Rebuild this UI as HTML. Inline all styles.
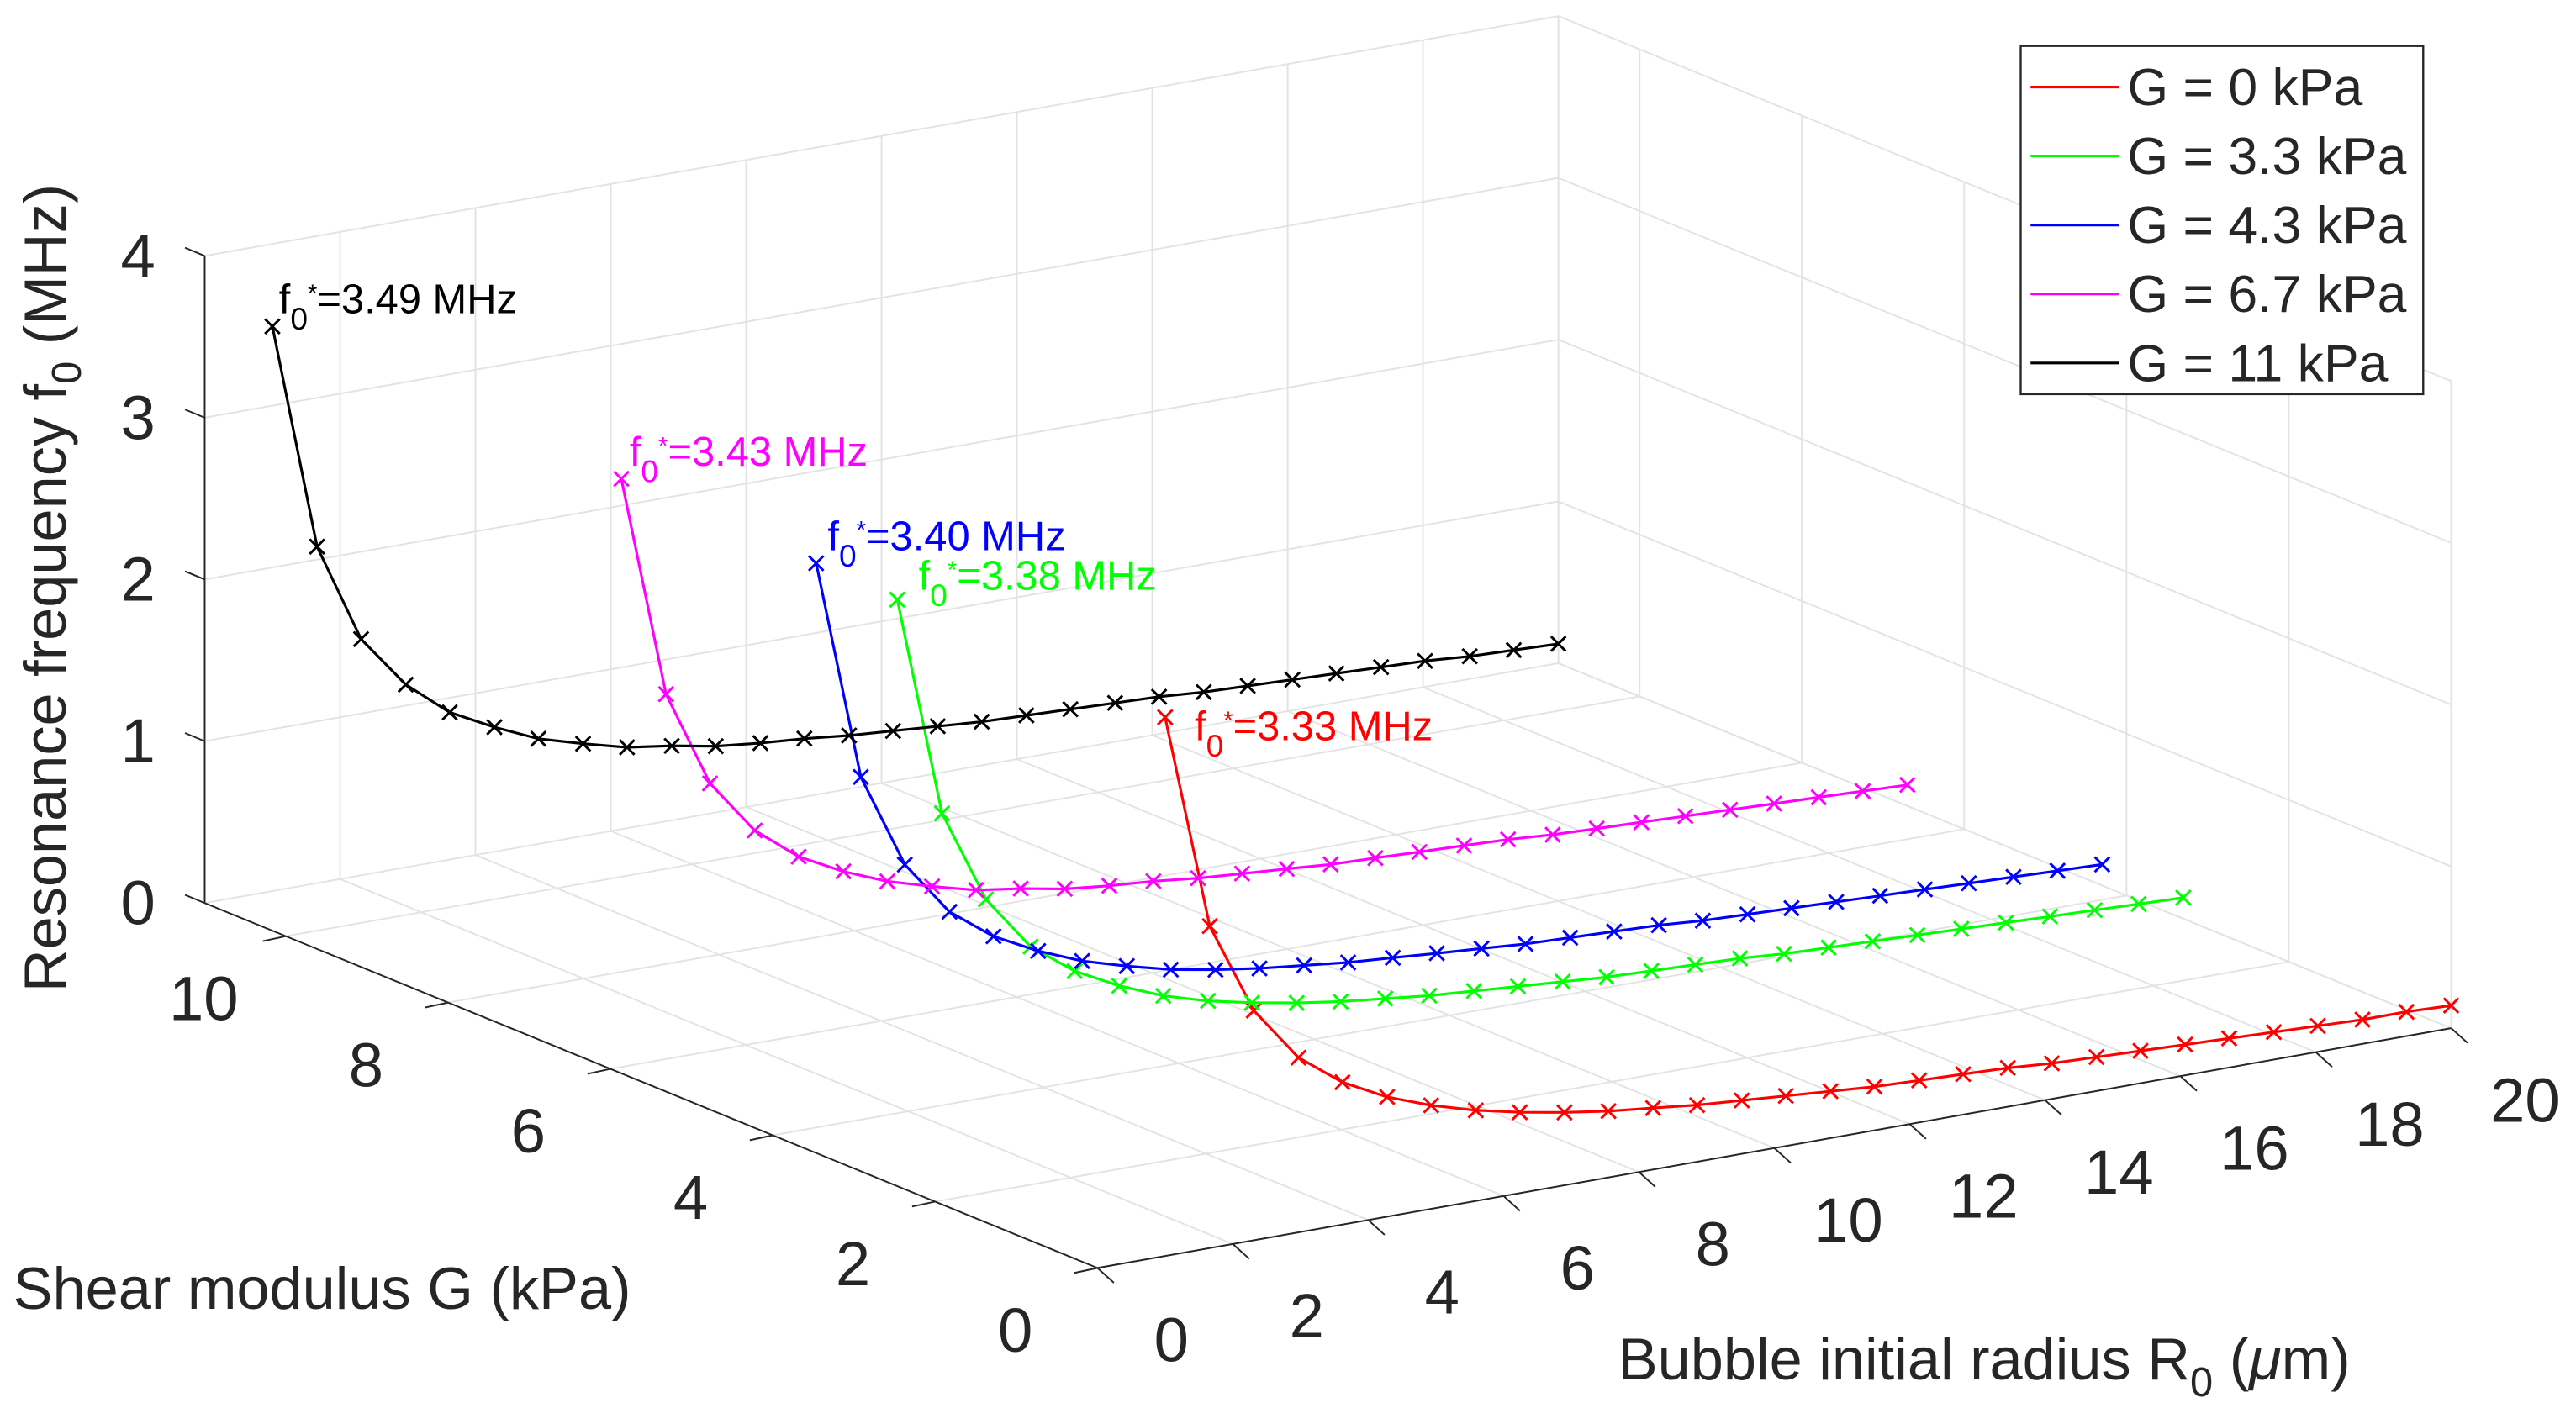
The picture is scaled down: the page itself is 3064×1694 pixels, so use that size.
<!DOCTYPE html>
<html><head><meta charset="utf-8"><style>
html,body{margin:0;padding:0;background:#fff}
svg{display:block}
text{font-family:"Liberation Sans",Arial,sans-serif;fill:#262626}
</style></head>
<body>
<svg id="chart" width="3064" height="1694" viewBox="0 0 1568 867" preserveAspectRatio="none" xmlns="http://www.w3.org/2000/svg">
<g id="grid"></g>
<g id="axes"></g>
<g id="series"></g>
<g id="labels">
<text transform="translate(40,358) rotate(-90)" text-anchor="middle" font-size="36">Resonance frequency f<tspan font-size="25" dy="9">0</tspan><tspan dy="-9"> (MHz)</tspan></text>
<text x="8" y="797" font-size="36">Shear modulus G (kPa)</text>
<text x="985" y="840" font-size="36">Bubble initial radius R<tspan font-size="25" dy="10">0</tspan><tspan dy="-10"> (</tspan><tspan font-style="italic">μ</tspan>m)</text>
</g>
<g id="legend">
<rect x="1230" y="28" width="245" height="212" fill="#fff" stroke="#262626" stroke-width="1.2"/>
</g>
</svg>
<script>
const NS='http://www.w3.org/2000/svg';
const rVals=[1.00,1.66,2.31,2.97,3.62,4.28,4.93,5.59,6.24,6.90,7.55,8.21,8.86,9.52,10.17,10.83,11.48,12.14,12.79,13.45,14.10,14.76,15.41,16.07,16.72,17.38,18.03,18.69,19.34,20.00];
const gVals=[0,3.3,4.3,6.7,11];
const seriesNames=['G = 0 kPa','G = 3.3 kPa','G = 4.3 kPa','G = 6.7 kPa','G = 11 kPa'];
const seriesColors=['#ff0000','#00ff00','#0000ff','#ff00ff','#000000'];
const peakLabels=['3.33','3.38','3.40','3.43','3.49'];
const fG0=[3.33,1.99,1.42,1.08,0.88,0.74,0.64,0.56,0.50,0.45,0.41,0.38,0.35,0.33,0.31,0.29,0.27,0.26,0.25,0.24,0.22,0.21,0.20,0.19,0.18,0.17,0.16,0.15,0.15,0.14];
const fG33=[3.38,2.01,1.43,1.09,0.89,0.75,0.64,0.56,0.50,0.45,0.41,0.38,0.35,0.33,0.31,0.29,0.27,0.26,0.25,0.24,0.22,0.21,0.20,0.19,0.18,0.17,0.16,0.15,0.14,0.13];
const fG43=[3.40,2.03,1.44,1.10,0.90,0.76,0.65,0.57,0.50,0.45,0.41,0.38,0.35,0.33,0.31,0.29,0.27,0.26,0.25,0.24,0.22,0.21,0.20,0.19,0.18,0.17,0.16,0.15,0.14,0.13];
const fG67=[3.43,2.05,1.45,1.11,0.90,0.76,0.65,0.57,0.50,0.46,0.41,0.38,0.36,0.33,0.31,0.29,0.27,0.26,0.25,0.24,0.23,0.21,0.20,0.19,0.18,0.17,0.16,0.15,0.14,0.13];
const fG11=[3.49,2.08,1.46,1.13,0.91,0.77,0.65,0.57,0.50,0.46,0.41,0.38,0.36,0.33,0.31,0.29,0.27,0.26,0.25,0.24,0.23,0.21,0.20,0.19,0.18,0.17,0.16,0.14,0.13,0.12];
const rTicks=[0,2,4,6,8,10,12,14,16,18,20];
const gTicks=[0,2,4,6,8,10];
const fTicks=[0,1,2,3,4];
const allF=[fG0,fG33,fG43,fG67,fG11];
const annDx=[18,13,7,5,4];
const annDy=[14,-6,-8,-8,-8];
const R_MAX=20,G_MAX=11,F_MAX=4;
function px(R,G,f){return 668+41.2*R-49.4*G;}
function py(R,G,f){return 772-7.3*R-20.2*G-98.5*f;}
function mk(tag,attrs,parent){const e=document.createElementNS(NS,tag);for(const k in attrs)e.setAttribute(k,attrs[k]);parent.appendChild(e);return e;}
function line3(a,b,color,w,parent){return mk('line',{x1:px(...a),y1:py(...a),x2:px(...b),y2:py(...b),stroke:color,'stroke-width':w},parent);}
const grid=document.getElementById('grid'),axes=document.getElementById('axes'),ser=document.getElementById('series'),leg=document.getElementById('legend');
const GC='#e3e3e3';
rTicks.forEach(r=>{
  let l=line3([r,0,0],[r,G_MAX,0],GC,1,grid);
  l=line3([r,G_MAX,0],[r,G_MAX,F_MAX],GC,1,grid);
});
gTicks.forEach(g=>{
  let l=line3([0,g,0],[R_MAX,g,0],GC,1,grid);
  l=line3([R_MAX,g,0],[R_MAX,g,F_MAX],GC,1,grid);
});
fTicks.forEach(f=>{
  let l=line3([0,G_MAX,f],[R_MAX,G_MAX,f],GC,1,grid);
  l=line3([R_MAX,G_MAX,f],[R_MAX,0,f],GC,1,grid);
});
let ed=line3([R_MAX,G_MAX,0],[R_MAX,G_MAX,F_MAX],GC,1,grid);
ed=line3([R_MAX,0,0],[R_MAX,0,F_MAX],GC,1,grid);
const AC='#262626';
let a=line3([0,G_MAX,0],[0,G_MAX,F_MAX],AC,1,axes);
a=line3([0,0,0],[0,G_MAX,0],AC,1,axes);
a=line3([0,0,0],[R_MAX,0,0],AC,1,axes);
fTicks.forEach(f=>{
  const x=px(0,G_MAX,f),y=py(0,G_MAX,f);
  let t=mk('line',{x1:x,y1:y,x2:x-12,y2:y-5,stroke:AC,'stroke-width':1},axes);
  t=mk('text',{x:x-30,y:y+13,'font-size':38,'text-anchor':'end'},axes);t.textContent=f;
});
gTicks.forEach(g=>{
  const x=px(0,g,0),y=py(0,g,0);
  let t=mk('line',{x1:x,y1:y,x2:x-14,y2:y+3,stroke:AC,'stroke-width':1},axes);
  t=mk('text',{x:x-50,y:y+51,'font-size':38,'text-anchor':'middle'},axes);t.textContent=g;
});
rTicks.forEach(r=>{
  const x=px(r,0,0),y=py(r,0,0);
  let t=mk('line',{x1:x,y1:y,x2:x+10,y2:y+9,stroke:AC,'stroke-width':1},axes);
  t=mk('text',{x:x+45,y:y+57,'font-size':38,'text-anchor':'middle'},axes);t.textContent=r;
});
allF.forEach((fs,si)=>{
  const g=gVals[si],c=seriesColors[si];
  const grp=mk('g',{},ser);
  
  
  const pts=fs.map((f,i)=>px(rVals[i],g,f).toFixed(1)+','+py(rVals[i],g,f).toFixed(1)).join(' ');
  const pl=mk('polyline',{points:pts,fill:'none',stroke:c,'stroke-width':1.6,'stroke-linejoin':'round'},grp);
  
  
  fs.forEach((f,i)=>{
    const x=px(rVals[i],g,f),y=py(rVals[i],g,f),s=4.5;
    const m=mk('path',{d:`M${x-s},${y-s}L${x+s},${y+s}M${x-s},${y+s}L${x+s},${y-s}`,stroke:c,'stroke-width':1.5},grp);
    
    
  });
  const x0=px(rVals[0],g,fs[0]),y0=py(rVals[0],g,fs[0]);
  const t=mk('text',{x:x0+annDx[si],y:y0+annDy[si],'font-size':25},grp);
  
  
  t.style.fill=c;
  t.innerHTML='f<tspan font-size="19" dy="10">0</tspan><tspan font-size="15" dy="-17">*</tspan><tspan dy="7">='+peakLabels[si]+' MHz</tspan>';
});
seriesNames.forEach((n,i)=>{
  const y=53+i*42;
  let l=mk('line',{x1:1236,y1:y,x2:1290,y2:y,stroke:seriesColors[i],'stroke-width':1.6},leg);
  
  
  const t=mk('text',{x:1295,y:y+11,'font-size':32},leg);
  t.textContent=n;
  
  
});
</script>
</body></html>
